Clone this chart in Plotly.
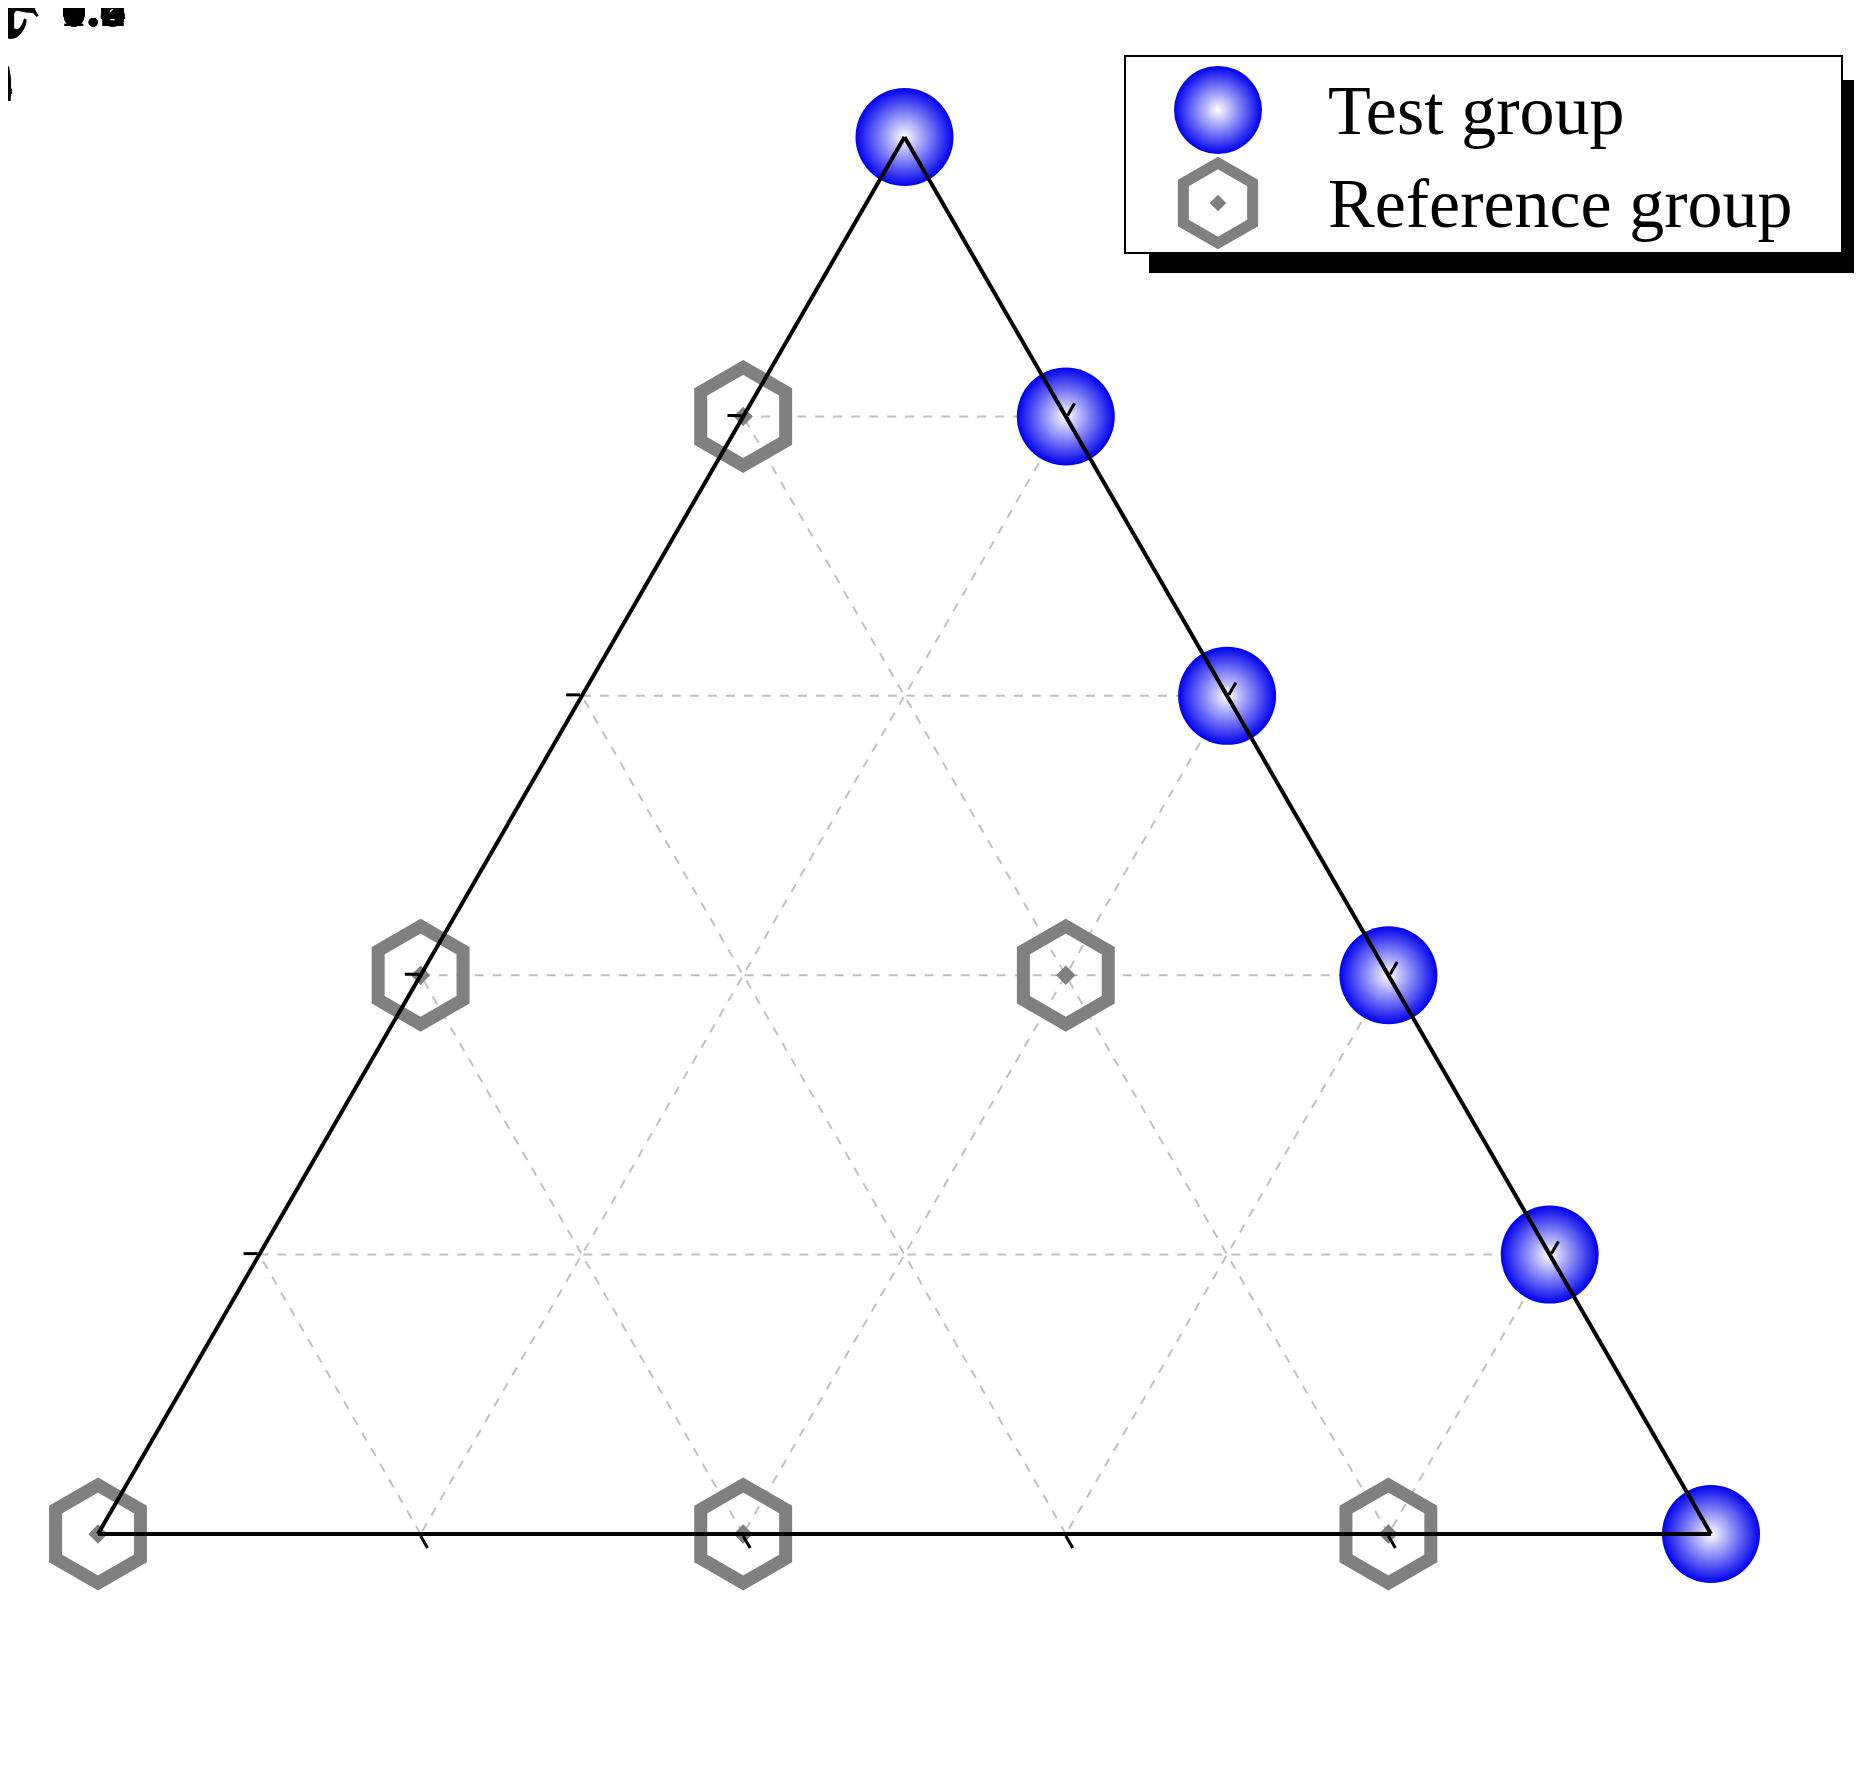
import plotly.graph_objects as go

W, H = 1864, 1769
# ternary components: a = X (top), b = Coarse ceramsite (bottom-left), c = Y (bottom-right)
test_X = [1.0, 0.8, 0.6, 0.4, 0.2, 0.0]
test_C = [0.0, 0.0, 0.0, 0.0, 0.0, 0.0]
test_Y = [0.0, 0.2, 0.4, 0.6, 0.8, 1.0]

ref_X = [0.8, 0.4, 0.4, 0.0, 0.0, 0.0]
ref_C = [0.2, 0.6, 0.2, 1.0, 0.6, 0.2]
ref_Y = [0.0, 0.0, 0.4, 0.0, 0.4, 0.8]

left_ticks = [0, 0.2, 0.6, 1]
left_labels = ["0", "0.2", "0.6", "1"]
right_ticks = [1.0, 0.8, 0.6, 0.4, 0.2, 0.0]
bottom_ticks = [0.0, 0.2, 0.4, 0.6, 0.8, 1.0]
series_names = ["Test group", "Reference group"]

x0, x1 = 90 / W, 1703 / W
tri_w = 1613
tri_h = tri_w * 0.8660254
y0 = 1 - 1526 / H
y1 = y0 + tri_h / H

def to_paper(a, c):
    return x0 + (c + a / 2) * (x1 - x0), y0 + a * tri_h / H

font = "Liberation Serif"
sphere = dict(size=98, color="#0000ee", symbol="circle",
              gradient=dict(type="radial", color="#ffffff"), line=dict(width=0))
hexm = dict(size=98, color="#808080", symbol="hexagon-open-dot",
            line=dict(width=13, color="#808080"))

fig = go.Figure()
fig.add_trace(go.Scatterternary(a=test_X, b=test_C, c=test_Y, mode="markers",
                                name=series_names[0], marker=sphere, cliponaxis=False,
                                showlegend=False))
fig.add_trace(go.Scatterternary(a=ref_X, b=ref_C, c=ref_Y, mode="markers",
                                name=series_names[1], marker=hexm, cliponaxis=False,
                                showlegend=False))

# manual legend in pixel-like cartesian frame
lx = 1210
ly = [102, 195]
fig.add_trace(go.Scatter(x=[lx], y=[ly[0]], mode="markers", marker=dict(sphere, size=88),
                         showlegend=False, hoverinfo="skip"))
fig.add_trace(go.Scatter(x=[lx], y=[ly[1]], mode="markers", marker=dict(hexm, size=80, line=dict(width=11, color="#808080")),
                         showlegend=False, hoverinfo="skip"))

axcommon = dict(linecolor="black", linewidth=4, showgrid=True, gridcolor="#c0c0c0",
                griddash="dash", gridwidth=1.5, tickvals=[0.2, 0.4, 0.6, 0.8],
                showticklabels=False, ticks="outside", ticklen=14, tickwidth=3,
                tickcolor="black", title=dict(text=""))
fig.update_layout(
    width=W, height=H, paper_bgcolor="white", plot_bgcolor="rgba(0,0,0,0)",
    margin=dict(l=0, r=0, t=0, b=0), showlegend=False,
    xaxis=dict(domain=[0, 1], range=[0, W], visible=False, fixedrange=True),
    yaxis=dict(domain=[0, 1], range=[H, 0], visible=False, fixedrange=True),
    ternary=dict(domain=dict(x=[x0, x1], y=[y0, y1]), bgcolor="white",
                 aaxis=axcommon, baxis=axcommon, caxis=axcommon, sum=1),
    font=dict(family=font, color="black"),
)
fig.add_shape(type="rect", xref="x", yref="y", x0=1141, x1=1846, y0=72, y1=265,
              fillcolor="black", line=dict(width=0), layer="below")
fig.add_shape(type="rect", xref="x", yref="y", x0=1117, x1=1834, y0=48, y1=245,
              fillcolor="white", line=dict(width=2, color="black"), layer="below")

ann = []
for name, yy in zip(series_names, ly):
    ann.append(dict(x=1318, y=yy, xref="x", yref="y", text=name, xanchor="left",
                    yanchor="middle", showarrow=False,
                    font=dict(family=font, size=70, color="black")))
tf = dict(family=font, size=52, color="black")
for v, lab in zip(left_ticks, left_labels):
    px, py = to_paper(1 - v, 0)
    ann.append(dict(x=px, y=py, text="<b>%s</b>" % lab, xshift=-30, yshift=72,
                    xanchor="right", yanchor="middle", showarrow=False, font=tf))
for v in right_ticks:
    px, py = to_paper(v, 1 - v)
    ann.append(dict(x=px, y=py, text="<b>%.1f</b>" % v, xshift=50, xanchor="left",
                    yanchor="middle", showarrow=False, font=tf))
for v in bottom_ticks:
    px, py = to_paper(0, v)
    ann.append(dict(x=px, y=py, text="<b>%.1f</b>" % v, xshift=-28, yshift=-75,
                    xanchor="center", yanchor="middle", showarrow=False, font=tf))
tt = dict(family=font, size=70, color="black")
ann.append(dict(x=322 / W, y=1 - 722 / H, text="<b>Coarse ceramsite</b>", textangle=-60,
                xanchor="center", yanchor="middle", showarrow=False, font=tt))
ann.append(dict(x=1475 / W, y=1 - 722 / H, text="<b>X</b>", textangle=60,
                xanchor="center", yanchor="middle", showarrow=False, font=tt))
ann.append(dict(x=896 / W, y=1 - 1727 / H, text="<b>Y</b>", xanchor="center",
                yanchor="middle", showarrow=False, font=tt))
fig.update_layout(annotations=ann)
fig.write_html("out.html")
